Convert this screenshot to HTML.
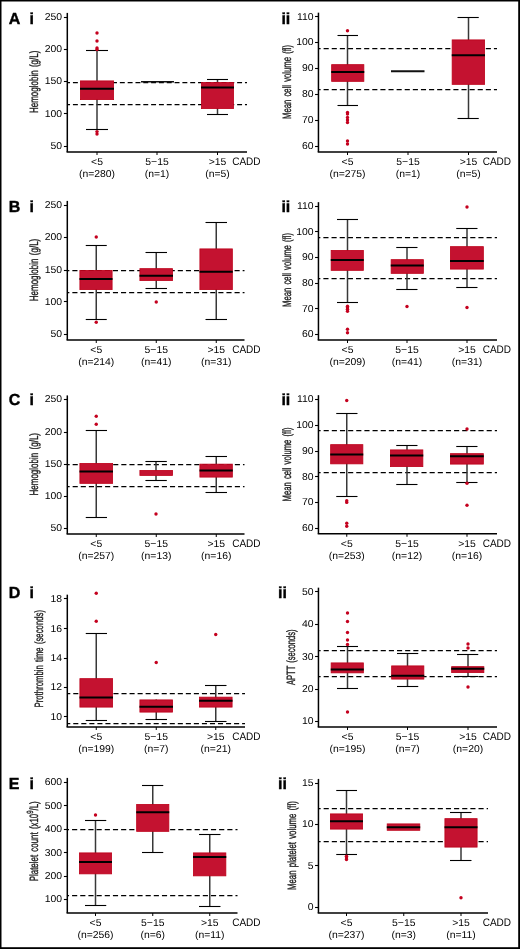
<!DOCTYPE html>
<html><head><meta charset="utf-8"><style>
html,body{margin:0;padding:0;background:#fff;}
svg{display:block;will-change:transform;}
text{text-rendering:geometricPrecision;}
.t{font-family:"Liberation Sans", sans-serif;font-size:10px;fill:#000;}
.yl{font-family:"Liberation Sans", sans-serif;fill:#1a1a1a;stroke:#1a1a1a;stroke-width:0.35px;}
.pl{font-family:"Liberation Sans", sans-serif;font-size:16px;font-weight:bold;fill:#000;stroke:#000;stroke-width:0.4px;}
</style></head><body>
<svg width="520" height="949" viewBox="0 0 520 949">
<rect x="0" y="0" width="520" height="949" fill="#000"/>
<rect x="1.5" y="1.5" width="516.7" height="945.7" fill="#fff"/>
<line x1="67.30" y1="82.5" x2="247" y2="82.5" stroke="#000" stroke-width="1.25" stroke-dasharray="4.93,2.89" stroke-dashoffset="2.20"/>
<line x1="67.30" y1="104.5" x2="247" y2="104.5" stroke="#000" stroke-width="1.25" stroke-dasharray="4.93,2.89" stroke-dashoffset="2.20"/>
<line x1="97" y1="50.5" x2="97" y2="129.5" stroke="#383838" stroke-width="1.5"/>
<line x1="86" y1="50.5" x2="108" y2="50.5" stroke="#000" stroke-width="1.1"/>
<line x1="86" y1="129.5" x2="108" y2="129.5" stroke="#000" stroke-width="1.1"/>
<rect x="80.40" y="80.90" width="33.20" height="18.70" fill="#C41230" stroke="#BD0019" stroke-width="0.8"/>
<line x1="80" y1="88.75" x2="114" y2="88.75" stroke="#000" stroke-width="2.0"/>
<circle cx="97" cy="33" r="1.7" fill="#C4001E"/>
<circle cx="97" cy="41" r="1.7" fill="#C4001E"/>
<circle cx="97" cy="48" r="1.7" fill="#C4001E"/>
<circle cx="97" cy="49.5" r="1.7" fill="#C4001E"/>
<circle cx="97" cy="131.6" r="1.7" fill="#C4001E"/>
<circle cx="97" cy="134" r="1.7" fill="#C4001E"/>
<line x1="141" y1="81.8" x2="174" y2="81.8" stroke="#111" stroke-width="1.4"/>
<line x1="217.5" y1="79.5" x2="217.5" y2="114.5" stroke="#383838" stroke-width="1.5"/>
<line x1="207" y1="79.5" x2="228" y2="79.5" stroke="#000" stroke-width="1.1"/>
<line x1="207" y1="114.5" x2="228" y2="114.5" stroke="#000" stroke-width="1.1"/>
<rect x="201.40" y="82.40" width="32.20" height="26.20" fill="#C41230" stroke="#BD0019" stroke-width="0.8"/>
<line x1="201" y1="87.5" x2="234" y2="87.5" stroke="#000" stroke-width="2.0"/>
<line x1="67.3" y1="12.9" x2="67.3" y2="151.9" stroke="#000" stroke-width="1.5"/>
<line x1="66.55" y1="151.9" x2="247" y2="151.9" stroke="#000" stroke-width="1.5"/>
<line x1="63.9" y1="17.5" x2="67.3" y2="17.5" stroke="#000" stroke-width="1.1"/>
<text transform="translate(62.00,19.8) scale(1.04,1)" text-anchor="end" class="t">250</text>
<line x1="63.9" y1="49.5" x2="67.3" y2="49.5" stroke="#000" stroke-width="1.1"/>
<text transform="translate(62.00,52.05) scale(1.04,1)" text-anchor="end" class="t">200</text>
<line x1="63.9" y1="81.5" x2="67.3" y2="81.5" stroke="#000" stroke-width="1.1"/>
<text transform="translate(62.00,84.3) scale(1.04,1)" text-anchor="end" class="t">150</text>
<line x1="63.9" y1="113.5" x2="67.3" y2="113.5" stroke="#000" stroke-width="1.1"/>
<text transform="translate(62.00,116.55) scale(1.04,1)" text-anchor="end" class="t">100</text>
<line x1="63.9" y1="146.5" x2="67.3" y2="146.5" stroke="#000" stroke-width="1.1"/>
<text transform="translate(62.00,148.8) scale(1.04,1)" text-anchor="end" class="t">50</text>
<line x1="97" y1="152" x2="97" y2="155" stroke="#000" stroke-width="1"/>
<line x1="157" y1="152" x2="157" y2="155" stroke="#000" stroke-width="1"/>
<line x1="217.5" y1="152" x2="217.5" y2="155" stroke="#000" stroke-width="1"/>
<text transform="translate(97.00,165) scale(1.04,1)" text-anchor="middle" class="t">&lt;5</text>
<text transform="translate(97.00,177) scale(1.04,1)" text-anchor="middle" class="t">(n=280)</text>
<text transform="translate(157.00,165) scale(1.04,1)" text-anchor="middle" class="t">5−15</text>
<text transform="translate(157.00,177) scale(1.04,1)" text-anchor="middle" class="t">(n=1)</text>
<text transform="translate(217.50,165) scale(1.04,1)" text-anchor="middle" class="t">&gt;15</text>
<text transform="translate(217.50,177) scale(1.04,1)" text-anchor="middle" class="t">(n=5)</text>
<text transform="translate(232.20,165) scale(0.92,1)" class="t" style="font-size:10.9px">CADD</text>
<text transform="translate(38,81.85) rotate(-90) scale(0.6653,1)" text-anchor="middle" class="yl" style="font-size:12px;word-spacing:1.6px">Hemoglobin (g/L)</text>
<line x1="318.45" y1="48.5" x2="497" y2="48.5" stroke="#000" stroke-width="1.25" stroke-dasharray="5.11,3.00" stroke-dashoffset="2.95"/>
<line x1="318.45" y1="89.5" x2="497" y2="89.5" stroke="#000" stroke-width="1.25" stroke-dasharray="5.11,3.00" stroke-dashoffset="2.95"/>
<line x1="347.5" y1="35.5" x2="347.5" y2="105.5" stroke="#383838" stroke-width="1.5"/>
<line x1="337.5" y1="35.5" x2="358" y2="35.5" stroke="#000" stroke-width="1.1"/>
<line x1="337.5" y1="105.5" x2="358" y2="105.5" stroke="#000" stroke-width="1.1"/>
<rect x="331.65" y="64.65" width="32.20" height="16.70" fill="#C41230" stroke="#BD0019" stroke-width="0.8"/>
<line x1="331.25" y1="72" x2="364.25" y2="72" stroke="#000" stroke-width="2.0"/>
<circle cx="347.5" cy="30.75" r="1.7" fill="#C4001E"/>
<circle cx="347.5" cy="112.5" r="1.7" fill="#C4001E"/>
<circle cx="347.5" cy="114" r="1.7" fill="#C4001E"/>
<circle cx="347.5" cy="117.5" r="1.7" fill="#C4001E"/>
<circle cx="347.5" cy="120" r="1.7" fill="#C4001E"/>
<circle cx="347.5" cy="122.5" r="1.7" fill="#C4001E"/>
<circle cx="347.5" cy="141" r="1.7" fill="#C4001E"/>
<circle cx="347.5" cy="144" r="1.7" fill="#C4001E"/>
<line x1="391" y1="71.25" x2="424.5" y2="71.25" stroke="#111" stroke-width="2.0"/>
<line x1="468.5" y1="17.5" x2="468.5" y2="118.5" stroke="#383838" stroke-width="1.5"/>
<line x1="457.5" y1="17.5" x2="478.75" y2="17.5" stroke="#000" stroke-width="1.1"/>
<line x1="457.5" y1="118.5" x2="478.75" y2="118.5" stroke="#000" stroke-width="1.1"/>
<rect x="452.15" y="39.90" width="32.45" height="44.45" fill="#C41230" stroke="#BD0019" stroke-width="0.8"/>
<line x1="451.75" y1="55.25" x2="485" y2="55.25" stroke="#000" stroke-width="2.0"/>
<line x1="318.45" y1="12.65" x2="318.45" y2="151.9" stroke="#000" stroke-width="1.5"/>
<line x1="317.7" y1="151.9" x2="497" y2="151.9" stroke="#000" stroke-width="1.5"/>
<line x1="315.05" y1="16.5" x2="318.45" y2="16.5" stroke="#000" stroke-width="1.1"/>
<text transform="translate(313.50,19.55) scale(1.04,1)" text-anchor="end" class="t">110</text>
<line x1="315.05" y1="42.5" x2="318.45" y2="42.5" stroke="#000" stroke-width="1.1"/>
<text transform="translate(313.50,45.3) scale(1.04,1)" text-anchor="end" class="t">100</text>
<line x1="315.05" y1="68.5" x2="318.45" y2="68.5" stroke="#000" stroke-width="1.1"/>
<text transform="translate(313.50,71.05) scale(1.04,1)" text-anchor="end" class="t">90</text>
<line x1="315.05" y1="94.5" x2="318.45" y2="94.5" stroke="#000" stroke-width="1.1"/>
<text transform="translate(313.50,97.05) scale(1.04,1)" text-anchor="end" class="t">80</text>
<line x1="315.05" y1="120.5" x2="318.45" y2="120.5" stroke="#000" stroke-width="1.1"/>
<text transform="translate(313.50,122.8) scale(1.04,1)" text-anchor="end" class="t">70</text>
<line x1="315.05" y1="146.5" x2="318.45" y2="146.5" stroke="#000" stroke-width="1.1"/>
<text transform="translate(313.50,148.8) scale(1.04,1)" text-anchor="end" class="t">60</text>
<line x1="347.5" y1="152" x2="347.5" y2="155" stroke="#000" stroke-width="1"/>
<line x1="408" y1="152" x2="408" y2="155" stroke="#000" stroke-width="1"/>
<line x1="468.5" y1="152" x2="468.5" y2="155" stroke="#000" stroke-width="1"/>
<text transform="translate(347.50,165) scale(1.04,1)" text-anchor="middle" class="t">&lt;5</text>
<text transform="translate(347.50,177) scale(1.04,1)" text-anchor="middle" class="t">(n=275)</text>
<text transform="translate(408.00,165) scale(1.04,1)" text-anchor="middle" class="t">5−15</text>
<text transform="translate(408.00,177) scale(1.04,1)" text-anchor="middle" class="t">(n=1)</text>
<text transform="translate(468.50,165) scale(1.04,1)" text-anchor="middle" class="t">&gt;15</text>
<text transform="translate(468.50,177) scale(1.04,1)" text-anchor="middle" class="t">(n=5)</text>
<text transform="translate(482.70,165) scale(0.92,1)" class="t" style="font-size:10.9px">CADD</text>
<text transform="translate(290.8,81.95) rotate(-90) scale(0.6416,1)" text-anchor="middle" class="yl" style="font-size:12px;word-spacing:1.6px">Mean cell volume (fl)</text>
<line x1="67.30" y1="270.5" x2="244.5" y2="270.5" stroke="#000" stroke-width="1.25" stroke-dasharray="5.11,3.00" stroke-dashoffset="3.06"/>
<line x1="67.30" y1="292.5" x2="244.5" y2="292.5" stroke="#000" stroke-width="1.25" stroke-dasharray="5.11,3.00" stroke-dashoffset="3.06"/>
<line x1="96.25" y1="245.5" x2="96.25" y2="319.5" stroke="#383838" stroke-width="1.5"/>
<line x1="85.75" y1="245.5" x2="106.75" y2="245.5" stroke="#000" stroke-width="1.1"/>
<line x1="85.75" y1="319.5" x2="106.75" y2="319.5" stroke="#000" stroke-width="1.1"/>
<rect x="79.90" y="270.40" width="32.20" height="19.20" fill="#C41230" stroke="#BD0019" stroke-width="0.8"/>
<line x1="79.5" y1="279" x2="112.5" y2="279" stroke="#000" stroke-width="2.0"/>
<circle cx="96.25" cy="237" r="1.7" fill="#C4001E"/>
<circle cx="96.25" cy="322.25" r="1.7" fill="#C4001E"/>
<line x1="156.25" y1="252.5" x2="156.25" y2="288.5" stroke="#383838" stroke-width="1.5"/>
<line x1="145.5" y1="252.5" x2="167" y2="252.5" stroke="#000" stroke-width="1.1"/>
<line x1="145.5" y1="288.5" x2="167" y2="288.5" stroke="#000" stroke-width="1.1"/>
<rect x="139.90" y="268.65" width="32.70" height="11.95" fill="#C41230" stroke="#BD0019" stroke-width="0.8"/>
<line x1="139.5" y1="275.75" x2="173" y2="275.75" stroke="#000" stroke-width="2.0"/>
<circle cx="156.25" cy="302" r="1.7" fill="#C4001E"/>
<line x1="216.25" y1="222.5" x2="216.25" y2="319.5" stroke="#383838" stroke-width="1.5"/>
<line x1="205.5" y1="222.5" x2="227" y2="222.5" stroke="#000" stroke-width="1.1"/>
<line x1="205.5" y1="319.5" x2="227" y2="319.5" stroke="#000" stroke-width="1.1"/>
<rect x="199.90" y="248.90" width="32.45" height="40.70" fill="#C41230" stroke="#BD0019" stroke-width="0.8"/>
<line x1="199.5" y1="271.75" x2="232.75" y2="271.75" stroke="#000" stroke-width="2.0"/>
<line x1="67.3" y1="200.9" x2="67.3" y2="339.9" stroke="#000" stroke-width="1.5"/>
<line x1="66.55" y1="339.9" x2="244.5" y2="339.9" stroke="#000" stroke-width="1.5"/>
<line x1="63.9" y1="205.5" x2="67.3" y2="205.5" stroke="#000" stroke-width="1.1"/>
<text transform="translate(62.00,207.8) scale(1.04,1)" text-anchor="end" class="t">250</text>
<line x1="63.9" y1="237.5" x2="67.3" y2="237.5" stroke="#000" stroke-width="1.1"/>
<text transform="translate(62.00,240.3) scale(1.04,1)" text-anchor="end" class="t">200</text>
<line x1="63.9" y1="270.5" x2="67.3" y2="270.5" stroke="#000" stroke-width="1.1"/>
<text transform="translate(62.00,272.8) scale(1.04,1)" text-anchor="end" class="t">150</text>
<line x1="63.9" y1="301.5" x2="67.3" y2="301.5" stroke="#000" stroke-width="1.1"/>
<text transform="translate(62.00,304.55) scale(1.04,1)" text-anchor="end" class="t">100</text>
<line x1="63.9" y1="334.5" x2="67.3" y2="334.5" stroke="#000" stroke-width="1.1"/>
<text transform="translate(62.00,337.05) scale(1.04,1)" text-anchor="end" class="t">50</text>
<line x1="96.25" y1="340" x2="96.25" y2="343" stroke="#000" stroke-width="1"/>
<line x1="156.25" y1="340" x2="156.25" y2="343" stroke="#000" stroke-width="1"/>
<line x1="216.25" y1="340" x2="216.25" y2="343" stroke="#000" stroke-width="1"/>
<text transform="translate(96.25,353) scale(1.04,1)" text-anchor="middle" class="t">&lt;5</text>
<text transform="translate(96.25,365) scale(1.04,1)" text-anchor="middle" class="t">(n=214)</text>
<text transform="translate(156.25,353) scale(1.04,1)" text-anchor="middle" class="t">5−15</text>
<text transform="translate(156.25,365) scale(1.04,1)" text-anchor="middle" class="t">(n=41)</text>
<text transform="translate(216.25,353) scale(1.04,1)" text-anchor="middle" class="t">&gt;15</text>
<text transform="translate(216.25,365) scale(1.04,1)" text-anchor="middle" class="t">(n=31)</text>
<text transform="translate(232.20,353) scale(0.92,1)" class="t" style="font-size:10.9px">CADD</text>
<text transform="translate(38,270.0) rotate(-90) scale(0.6675,1)" text-anchor="middle" class="yl" style="font-size:12px;word-spacing:1.6px">Hemoglobin (g/L)</text>
<line x1="318.45" y1="237.5" x2="497" y2="237.5" stroke="#000" stroke-width="1.25" stroke-dasharray="5.14,3.02" stroke-dashoffset="3.25"/>
<line x1="318.45" y1="278.5" x2="497" y2="278.5" stroke="#000" stroke-width="1.25" stroke-dasharray="5.14,3.02" stroke-dashoffset="3.25"/>
<line x1="347.5" y1="219.5" x2="347.5" y2="302.5" stroke="#383838" stroke-width="1.5"/>
<line x1="337" y1="219.5" x2="358" y2="219.5" stroke="#000" stroke-width="1.1"/>
<line x1="337" y1="302.5" x2="358" y2="302.5" stroke="#000" stroke-width="1.1"/>
<rect x="331.15" y="250.40" width="32.20" height="19.95" fill="#C41230" stroke="#BD0019" stroke-width="0.8"/>
<line x1="330.75" y1="260" x2="363.75" y2="260" stroke="#000" stroke-width="2.0"/>
<circle cx="347.5" cy="306.3" r="1.7" fill="#C4001E"/>
<circle cx="347.5" cy="307.8" r="1.7" fill="#C4001E"/>
<circle cx="347.5" cy="309.3" r="1.7" fill="#C4001E"/>
<circle cx="347.5" cy="311.3" r="1.7" fill="#C4001E"/>
<circle cx="347.5" cy="329.3" r="1.7" fill="#C4001E"/>
<circle cx="347.5" cy="332.7" r="1.7" fill="#C4001E"/>
<line x1="407" y1="247.5" x2="407" y2="289.5" stroke="#383838" stroke-width="1.5"/>
<line x1="396.25" y1="247.5" x2="417.5" y2="247.5" stroke="#000" stroke-width="1.1"/>
<line x1="396.25" y1="289.5" x2="417.5" y2="289.5" stroke="#000" stroke-width="1.1"/>
<rect x="391.15" y="259.65" width="32.20" height="13.70" fill="#C41230" stroke="#BD0019" stroke-width="0.8"/>
<line x1="390.75" y1="265.5" x2="423.75" y2="265.5" stroke="#000" stroke-width="2.0"/>
<circle cx="407" cy="306.5" r="1.7" fill="#C4001E"/>
<line x1="467" y1="228.5" x2="467" y2="287.5" stroke="#383838" stroke-width="1.5"/>
<line x1="456.25" y1="228.5" x2="477.5" y2="228.5" stroke="#000" stroke-width="1.1"/>
<line x1="456.25" y1="287.5" x2="477.5" y2="287.5" stroke="#000" stroke-width="1.1"/>
<rect x="450.40" y="246.65" width="32.95" height="22.45" fill="#C41230" stroke="#BD0019" stroke-width="0.8"/>
<line x1="450" y1="261" x2="483.75" y2="261" stroke="#000" stroke-width="2.0"/>
<circle cx="467" cy="207" r="1.7" fill="#C4001E"/>
<circle cx="467" cy="307.5" r="1.7" fill="#C4001E"/>
<line x1="318.45" y1="202.15" x2="318.45" y2="339.9" stroke="#000" stroke-width="1.5"/>
<line x1="317.7" y1="339.9" x2="497" y2="339.9" stroke="#000" stroke-width="1.5"/>
<line x1="315.05" y1="206.5" x2="318.45" y2="206.5" stroke="#000" stroke-width="1.1"/>
<text transform="translate(313.50,209.05) scale(1.04,1)" text-anchor="end" class="t">110</text>
<line x1="315.05" y1="231.5" x2="318.45" y2="231.5" stroke="#000" stroke-width="1.1"/>
<text transform="translate(313.50,234.55) scale(1.04,1)" text-anchor="end" class="t">100</text>
<line x1="315.05" y1="257.5" x2="318.45" y2="257.5" stroke="#000" stroke-width="1.1"/>
<text transform="translate(313.50,260.3) scale(1.04,1)" text-anchor="end" class="t">90</text>
<line x1="315.05" y1="283.5" x2="318.45" y2="283.5" stroke="#000" stroke-width="1.1"/>
<text transform="translate(313.50,285.8) scale(1.04,1)" text-anchor="end" class="t">80</text>
<line x1="315.05" y1="308.5" x2="318.45" y2="308.5" stroke="#000" stroke-width="1.1"/>
<text transform="translate(313.50,311.55) scale(1.04,1)" text-anchor="end" class="t">70</text>
<line x1="315.05" y1="334.5" x2="318.45" y2="334.5" stroke="#000" stroke-width="1.1"/>
<text transform="translate(313.50,337.3) scale(1.04,1)" text-anchor="end" class="t">60</text>
<line x1="347.5" y1="340" x2="347.5" y2="343" stroke="#000" stroke-width="1"/>
<line x1="407" y1="340" x2="407" y2="343" stroke="#000" stroke-width="1"/>
<line x1="467" y1="340" x2="467" y2="343" stroke="#000" stroke-width="1"/>
<text transform="translate(347.50,353) scale(1.04,1)" text-anchor="middle" class="t">&lt;5</text>
<text transform="translate(347.50,365) scale(1.04,1)" text-anchor="middle" class="t">(n=209)</text>
<text transform="translate(407.00,353) scale(1.04,1)" text-anchor="middle" class="t">5−15</text>
<text transform="translate(407.00,365) scale(1.04,1)" text-anchor="middle" class="t">(n=41)</text>
<text transform="translate(467.00,353) scale(1.04,1)" text-anchor="middle" class="t">&gt;15</text>
<text transform="translate(467.00,365) scale(1.04,1)" text-anchor="middle" class="t">(n=31)</text>
<text transform="translate(482.70,353) scale(0.92,1)" class="t" style="font-size:10.9px">CADD</text>
<text transform="translate(290.8,270.0) rotate(-90) scale(0.6407,1)" text-anchor="middle" class="yl" style="font-size:12px;word-spacing:1.6px">Mean cell volume (fl)</text>
<line x1="67.30" y1="464.5" x2="244.5" y2="464.5" stroke="#000" stroke-width="1.25" stroke-dasharray="5.11,3.00" stroke-dashoffset="2.76"/>
<line x1="67.30" y1="486.5" x2="244.5" y2="486.5" stroke="#000" stroke-width="1.25" stroke-dasharray="5.11,3.00" stroke-dashoffset="2.76"/>
<line x1="96.25" y1="430.5" x2="96.25" y2="517.5" stroke="#383838" stroke-width="1.5"/>
<line x1="85.75" y1="430.5" x2="107" y2="430.5" stroke="#000" stroke-width="1.1"/>
<line x1="85.75" y1="517.5" x2="107" y2="517.5" stroke="#000" stroke-width="1.1"/>
<rect x="79.90" y="463.40" width="32.70" height="19.95" fill="#C41230" stroke="#BD0019" stroke-width="0.8"/>
<line x1="79.5" y1="471.5" x2="113" y2="471.5" stroke="#000" stroke-width="2.0"/>
<circle cx="96.25" cy="416.25" r="1.7" fill="#C4001E"/>
<circle cx="96.25" cy="424.25" r="1.7" fill="#C4001E"/>
<line x1="156" y1="461.5" x2="156" y2="480.5" stroke="#383838" stroke-width="1.5"/>
<line x1="145.4" y1="461.5" x2="166.8" y2="461.5" stroke="#000" stroke-width="1.1"/>
<line x1="145.4" y1="480.5" x2="166.8" y2="480.5" stroke="#000" stroke-width="1.1"/>
<rect x="139.90" y="470.40" width="32.70" height="5.00" fill="#C41230" stroke="#BD0019" stroke-width="0.8"/>
<circle cx="156" cy="514" r="1.7" fill="#C4001E"/>
<line x1="216.25" y1="456.5" x2="216.25" y2="492.5" stroke="#383838" stroke-width="1.5"/>
<line x1="205.5" y1="456.5" x2="227" y2="456.5" stroke="#000" stroke-width="1.1"/>
<line x1="205.5" y1="492.5" x2="227" y2="492.5" stroke="#000" stroke-width="1.1"/>
<rect x="199.90" y="464.15" width="32.45" height="12.95" fill="#C41230" stroke="#BD0019" stroke-width="0.8"/>
<line x1="199.5" y1="470.5" x2="232.75" y2="470.5" stroke="#000" stroke-width="2.0"/>
<line x1="67.3" y1="395.4" x2="67.3" y2="533.9" stroke="#000" stroke-width="1.5"/>
<line x1="66.55" y1="533.9" x2="244.5" y2="533.9" stroke="#000" stroke-width="1.5"/>
<line x1="63.9" y1="399.5" x2="67.3" y2="399.5" stroke="#000" stroke-width="1.1"/>
<text transform="translate(62.00,402.3) scale(1.04,1)" text-anchor="end" class="t">250</text>
<line x1="63.9" y1="432.5" x2="67.3" y2="432.5" stroke="#000" stroke-width="1.1"/>
<text transform="translate(62.00,434.8) scale(1.04,1)" text-anchor="end" class="t">200</text>
<line x1="63.9" y1="464.5" x2="67.3" y2="464.5" stroke="#000" stroke-width="1.1"/>
<text transform="translate(62.00,467.05) scale(1.04,1)" text-anchor="end" class="t">150</text>
<line x1="63.9" y1="496.5" x2="67.3" y2="496.5" stroke="#000" stroke-width="1.1"/>
<text transform="translate(62.00,499.05) scale(1.04,1)" text-anchor="end" class="t">100</text>
<line x1="63.9" y1="528.5" x2="67.3" y2="528.5" stroke="#000" stroke-width="1.1"/>
<text transform="translate(62.00,531.3) scale(1.04,1)" text-anchor="end" class="t">50</text>
<line x1="96.25" y1="534" x2="96.25" y2="537" stroke="#000" stroke-width="1"/>
<line x1="156.25" y1="534" x2="156.25" y2="537" stroke="#000" stroke-width="1"/>
<line x1="216.25" y1="534" x2="216.25" y2="537" stroke="#000" stroke-width="1"/>
<text transform="translate(96.25,547) scale(1.04,1)" text-anchor="middle" class="t">&lt;5</text>
<text transform="translate(96.25,559) scale(1.04,1)" text-anchor="middle" class="t">(n=257)</text>
<text transform="translate(156.25,547) scale(1.04,1)" text-anchor="middle" class="t">5−15</text>
<text transform="translate(156.25,559) scale(1.04,1)" text-anchor="middle" class="t">(n=13)</text>
<text transform="translate(216.25,547) scale(1.04,1)" text-anchor="middle" class="t">&gt;15</text>
<text transform="translate(216.25,559) scale(1.04,1)" text-anchor="middle" class="t">(n=16)</text>
<text transform="translate(232.20,547) scale(0.92,1)" class="t" style="font-size:10.9px">CADD</text>
<text transform="translate(38,464.25) rotate(-90) scale(0.6675,1)" text-anchor="middle" class="yl" style="font-size:12px;word-spacing:1.6px">Hemoglobin (g/L)</text>
<line x1="318.45" y1="430.5" x2="497" y2="430.5" stroke="#000" stroke-width="1.25" stroke-dasharray="5.13,3.02" stroke-dashoffset="2.95"/>
<line x1="318.45" y1="472.5" x2="497" y2="472.5" stroke="#000" stroke-width="1.25" stroke-dasharray="5.13,3.02" stroke-dashoffset="2.95"/>
<line x1="346.75" y1="413.5" x2="346.75" y2="496.5" stroke="#383838" stroke-width="1.5"/>
<line x1="336.25" y1="413.5" x2="357.5" y2="413.5" stroke="#000" stroke-width="1.1"/>
<line x1="336.25" y1="496.5" x2="357.5" y2="496.5" stroke="#000" stroke-width="1.1"/>
<rect x="330.65" y="444.65" width="32.20" height="19.20" fill="#C41230" stroke="#BD0019" stroke-width="0.8"/>
<line x1="330.25" y1="454.5" x2="363.25" y2="454.5" stroke="#000" stroke-width="2.0"/>
<circle cx="346.75" cy="400.5" r="1.7" fill="#C4001E"/>
<circle cx="346.75" cy="500.8" r="1.7" fill="#C4001E"/>
<circle cx="346.75" cy="502.4" r="1.7" fill="#C4001E"/>
<circle cx="346.75" cy="523.2" r="1.7" fill="#C4001E"/>
<circle cx="346.75" cy="526.3" r="1.7" fill="#C4001E"/>
<line x1="407" y1="445.5" x2="407" y2="484.5" stroke="#383838" stroke-width="1.5"/>
<line x1="396.25" y1="445.5" x2="417.5" y2="445.5" stroke="#000" stroke-width="1.1"/>
<line x1="396.25" y1="484.5" x2="417.5" y2="484.5" stroke="#000" stroke-width="1.1"/>
<rect x="390.40" y="449.90" width="32.45" height="16.70" fill="#C41230" stroke="#BD0019" stroke-width="0.8"/>
<line x1="390" y1="455.5" x2="423.25" y2="455.5" stroke="#000" stroke-width="2.0"/>
<line x1="467" y1="446.5" x2="467" y2="482.5" stroke="#383838" stroke-width="1.5"/>
<line x1="456.25" y1="446.5" x2="477.5" y2="446.5" stroke="#000" stroke-width="1.1"/>
<line x1="456.25" y1="482.5" x2="477.5" y2="482.5" stroke="#000" stroke-width="1.1"/>
<rect x="450.40" y="453.65" width="32.95" height="10.45" fill="#C41230" stroke="#BD0019" stroke-width="0.8"/>
<line x1="450" y1="456.25" x2="483.75" y2="456.25" stroke="#000" stroke-width="2.0"/>
<circle cx="467" cy="429" r="1.7" fill="#C4001E"/>
<circle cx="467" cy="483.25" r="1.7" fill="#C4001E"/>
<circle cx="467" cy="505.25" r="1.7" fill="#C4001E"/>
<line x1="318.45" y1="395.15" x2="318.45" y2="533.65" stroke="#000" stroke-width="1.5"/>
<line x1="317.7" y1="533.65" x2="497" y2="533.65" stroke="#000" stroke-width="1.5"/>
<line x1="315.05" y1="399.5" x2="318.45" y2="399.5" stroke="#000" stroke-width="1.1"/>
<text transform="translate(313.50,402.05) scale(1.04,1)" text-anchor="end" class="t">110</text>
<line x1="315.05" y1="425.5" x2="318.45" y2="425.5" stroke="#000" stroke-width="1.1"/>
<text transform="translate(313.50,427.8) scale(1.04,1)" text-anchor="end" class="t">100</text>
<line x1="315.05" y1="451.5" x2="318.45" y2="451.5" stroke="#000" stroke-width="1.1"/>
<text transform="translate(313.50,454.05) scale(1.04,1)" text-anchor="end" class="t">90</text>
<line x1="315.05" y1="476.5" x2="318.45" y2="476.5" stroke="#000" stroke-width="1.1"/>
<text transform="translate(313.50,479.55) scale(1.04,1)" text-anchor="end" class="t">80</text>
<line x1="315.05" y1="502.5" x2="318.45" y2="502.5" stroke="#000" stroke-width="1.1"/>
<text transform="translate(313.50,505.3) scale(1.04,1)" text-anchor="end" class="t">70</text>
<line x1="315.05" y1="528.5" x2="318.45" y2="528.5" stroke="#000" stroke-width="1.1"/>
<text transform="translate(313.50,530.8) scale(1.04,1)" text-anchor="end" class="t">60</text>
<line x1="346.75" y1="533.75" x2="346.75" y2="536.75" stroke="#000" stroke-width="1"/>
<line x1="407" y1="533.75" x2="407" y2="536.75" stroke="#000" stroke-width="1"/>
<line x1="467" y1="533.75" x2="467" y2="536.75" stroke="#000" stroke-width="1"/>
<text transform="translate(346.75,547) scale(1.04,1)" text-anchor="middle" class="t">&lt;5</text>
<text transform="translate(346.75,559) scale(1.04,1)" text-anchor="middle" class="t">(n=253)</text>
<text transform="translate(407.00,547) scale(1.04,1)" text-anchor="middle" class="t">5−15</text>
<text transform="translate(407.00,559) scale(1.04,1)" text-anchor="middle" class="t">(n=12)</text>
<text transform="translate(467.00,547) scale(1.04,1)" text-anchor="middle" class="t">&gt;15</text>
<text transform="translate(467.00,559) scale(1.04,1)" text-anchor="middle" class="t">(n=16)</text>
<text transform="translate(482.70,547) scale(0.92,1)" class="t" style="font-size:10.9px">CADD</text>
<text transform="translate(290.8,464.5) rotate(-90) scale(0.6407,1)" text-anchor="middle" class="yl" style="font-size:12px;word-spacing:1.6px">Mean cell volume (fl)</text>
<line x1="67.30" y1="693.5" x2="245" y2="693.5" stroke="#000" stroke-width="1.25" stroke-dasharray="5.07,2.97" stroke-dashoffset="2.08"/>
<line x1="67.30" y1="723.5" x2="245" y2="723.5" stroke="#000" stroke-width="1.25" stroke-dasharray="5.07,2.97" stroke-dashoffset="2.08"/>
<line x1="96.25" y1="633.5" x2="96.25" y2="720.5" stroke="#383838" stroke-width="1.5"/>
<line x1="85.75" y1="633.5" x2="107" y2="633.5" stroke="#000" stroke-width="1.1"/>
<line x1="85.75" y1="720.5" x2="107" y2="720.5" stroke="#000" stroke-width="1.1"/>
<rect x="79.90" y="678.65" width="32.70" height="28.45" fill="#C41230" stroke="#BD0019" stroke-width="0.8"/>
<line x1="79.5" y1="697.5" x2="113" y2="697.5" stroke="#000" stroke-width="2.0"/>
<circle cx="96.25" cy="593.25" r="1.7" fill="#C4001E"/>
<circle cx="96.25" cy="621.25" r="1.7" fill="#C4001E"/>
<line x1="156.25" y1="699.5" x2="156.25" y2="719.5" stroke="#383838" stroke-width="1.5"/>
<line x1="145.5" y1="719.5" x2="167" y2="719.5" stroke="#000" stroke-width="1.1"/>
<rect x="139.90" y="699.90" width="32.70" height="12.20" fill="#C41230" stroke="#BD0019" stroke-width="0.8"/>
<line x1="139.5" y1="706.75" x2="173" y2="706.75" stroke="#000" stroke-width="2.0"/>
<circle cx="156.25" cy="662.5" r="1.7" fill="#C4001E"/>
<line x1="215.75" y1="685.5" x2="215.75" y2="721.5" stroke="#383838" stroke-width="1.5"/>
<line x1="205" y1="685.5" x2="226.5" y2="685.5" stroke="#000" stroke-width="1.1"/>
<line x1="205" y1="721.5" x2="226.5" y2="721.5" stroke="#000" stroke-width="1.1"/>
<rect x="199.40" y="697.15" width="32.70" height="9.95" fill="#C41230" stroke="#BD0019" stroke-width="0.8"/>
<line x1="199" y1="700.75" x2="232.5" y2="700.75" stroke="#000" stroke-width="2.0"/>
<circle cx="215.75" cy="634.5" r="1.7" fill="#C4001E"/>
<line x1="67.3" y1="594.65" x2="67.3" y2="726.9" stroke="#000" stroke-width="1.5"/>
<line x1="66.55" y1="726.9" x2="245" y2="726.9" stroke="#000" stroke-width="1.5"/>
<line x1="63.9" y1="598.5" x2="67.3" y2="598.5" stroke="#000" stroke-width="1.1"/>
<text transform="translate(62.00,601.55) scale(1.04,1)" text-anchor="end" class="t">18</text>
<line x1="63.9" y1="628.5" x2="67.3" y2="628.5" stroke="#000" stroke-width="1.1"/>
<text transform="translate(62.00,631.55) scale(1.04,1)" text-anchor="end" class="t">16</text>
<line x1="63.9" y1="658.5" x2="67.3" y2="658.5" stroke="#000" stroke-width="1.1"/>
<text transform="translate(62.00,661.05) scale(1.04,1)" text-anchor="end" class="t">14</text>
<line x1="63.9" y1="687.5" x2="67.3" y2="687.5" stroke="#000" stroke-width="1.1"/>
<text transform="translate(62.00,690.3) scale(1.04,1)" text-anchor="end" class="t">12</text>
<line x1="63.9" y1="716.5" x2="67.3" y2="716.5" stroke="#000" stroke-width="1.1"/>
<text transform="translate(62.00,719.55) scale(1.04,1)" text-anchor="end" class="t">10</text>
<line x1="96.25" y1="727" x2="96.25" y2="730" stroke="#000" stroke-width="1"/>
<line x1="156.25" y1="727" x2="156.25" y2="730" stroke="#000" stroke-width="1"/>
<line x1="215.75" y1="727" x2="215.75" y2="730" stroke="#000" stroke-width="1"/>
<text transform="translate(96.25,740) scale(1.04,1)" text-anchor="middle" class="t">&lt;5</text>
<text transform="translate(96.25,752) scale(1.04,1)" text-anchor="middle" class="t">(n=199)</text>
<text transform="translate(156.25,740) scale(1.04,1)" text-anchor="middle" class="t">5−15</text>
<text transform="translate(156.25,752) scale(1.04,1)" text-anchor="middle" class="t">(n=7)</text>
<text transform="translate(215.75,740) scale(1.04,1)" text-anchor="middle" class="t">&gt;15</text>
<text transform="translate(215.75,752) scale(1.04,1)" text-anchor="middle" class="t">(n=21)</text>
<text transform="translate(232.20,740) scale(0.92,1)" class="t" style="font-size:10.9px">CADD</text>
<text transform="translate(43,658.75) rotate(-90) scale(0.6475,1)" text-anchor="middle" class="yl" style="font-size:12px;word-spacing:1.6px">Prothrombin time (seconds)</text>
<line x1="318.45" y1="650.5" x2="497" y2="650.5" stroke="#000" stroke-width="1.25" stroke-dasharray="5.13,3.02" stroke-dashoffset="2.95"/>
<line x1="318.45" y1="676.5" x2="497" y2="676.5" stroke="#000" stroke-width="1.25" stroke-dasharray="5.13,3.02" stroke-dashoffset="2.95"/>
<line x1="347.5" y1="646.5" x2="347.5" y2="688.5" stroke="#383838" stroke-width="1.5"/>
<line x1="337" y1="646.5" x2="358" y2="646.5" stroke="#000" stroke-width="1.1"/>
<line x1="337" y1="688.5" x2="358" y2="688.5" stroke="#000" stroke-width="1.1"/>
<rect x="331.15" y="662.90" width="32.20" height="9.95" fill="#C41230" stroke="#BD0019" stroke-width="0.8"/>
<line x1="330.75" y1="669.5" x2="363.75" y2="669.5" stroke="#000" stroke-width="2.0"/>
<circle cx="347.5" cy="613" r="1.7" fill="#C4001E"/>
<circle cx="347.5" cy="621.5" r="1.7" fill="#C4001E"/>
<circle cx="347.5" cy="632.5" r="1.7" fill="#C4001E"/>
<circle cx="347.5" cy="640" r="1.7" fill="#C4001E"/>
<circle cx="347.5" cy="644.5" r="1.7" fill="#C4001E"/>
<circle cx="347.5" cy="712" r="1.7" fill="#C4001E"/>
<line x1="407.5" y1="653.5" x2="407.5" y2="686.5" stroke="#383838" stroke-width="1.5"/>
<line x1="397" y1="653.5" x2="418.25" y2="653.5" stroke="#000" stroke-width="1.1"/>
<line x1="397" y1="686.5" x2="418.25" y2="686.5" stroke="#000" stroke-width="1.1"/>
<rect x="391.65" y="665.90" width="32.20" height="13.20" fill="#C41230" stroke="#BD0019" stroke-width="0.8"/>
<line x1="391.25" y1="675.75" x2="424.25" y2="675.75" stroke="#000" stroke-width="2.0"/>
<line x1="468" y1="654.5" x2="468" y2="676.5" stroke="#383838" stroke-width="1.5"/>
<line x1="457" y1="654.5" x2="478.25" y2="654.5" stroke="#000" stroke-width="1.1"/>
<line x1="457" y1="676.5" x2="478.25" y2="676.5" stroke="#000" stroke-width="1.1"/>
<rect x="451.65" y="666.65" width="32.20" height="5.95" fill="#C41230" stroke="#BD0019" stroke-width="0.8"/>
<line x1="451.25" y1="668.75" x2="484.25" y2="668.75" stroke="#000" stroke-width="2.0"/>
<circle cx="468" cy="644" r="1.7" fill="#C4001E"/>
<circle cx="468" cy="648" r="1.7" fill="#C4001E"/>
<circle cx="468" cy="687" r="1.7" fill="#C4001E"/>
<line x1="318.45" y1="587.65" x2="318.45" y2="726.9" stroke="#000" stroke-width="1.5"/>
<line x1="317.7" y1="726.9" x2="497" y2="726.9" stroke="#000" stroke-width="1.5"/>
<line x1="315.05" y1="591.5" x2="318.45" y2="591.5" stroke="#000" stroke-width="1.1"/>
<text transform="translate(313.50,594.55) scale(1.04,1)" text-anchor="end" class="t">50</text>
<line x1="315.05" y1="624.5" x2="318.45" y2="624.5" stroke="#000" stroke-width="1.1"/>
<text transform="translate(313.50,627.05) scale(1.04,1)" text-anchor="end" class="t">40</text>
<line x1="315.05" y1="656.5" x2="318.45" y2="656.5" stroke="#000" stroke-width="1.1"/>
<text transform="translate(313.50,659.55) scale(1.04,1)" text-anchor="end" class="t">30</text>
<line x1="315.05" y1="689.5" x2="318.45" y2="689.5" stroke="#000" stroke-width="1.1"/>
<text transform="translate(313.50,692.05) scale(1.04,1)" text-anchor="end" class="t">20</text>
<line x1="315.05" y1="721.5" x2="318.45" y2="721.5" stroke="#000" stroke-width="1.1"/>
<text transform="translate(313.50,724.05) scale(1.04,1)" text-anchor="end" class="t">10</text>
<line x1="347.5" y1="727" x2="347.5" y2="730" stroke="#000" stroke-width="1"/>
<line x1="407.5" y1="727" x2="407.5" y2="730" stroke="#000" stroke-width="1"/>
<line x1="468" y1="727" x2="468" y2="730" stroke="#000" stroke-width="1"/>
<text transform="translate(347.50,740) scale(1.04,1)" text-anchor="middle" class="t">&lt;5</text>
<text transform="translate(347.50,752) scale(1.04,1)" text-anchor="middle" class="t">(n=195)</text>
<text transform="translate(407.50,740) scale(1.04,1)" text-anchor="middle" class="t">5−15</text>
<text transform="translate(407.50,752) scale(1.04,1)" text-anchor="middle" class="t">(n=7)</text>
<text transform="translate(468.00,740) scale(1.04,1)" text-anchor="middle" class="t">&gt;15</text>
<text transform="translate(468.00,752) scale(1.04,1)" text-anchor="middle" class="t">(n=20)</text>
<text transform="translate(482.70,740) scale(0.92,1)" class="t" style="font-size:10.9px">CADD</text>
<text transform="translate(295,657.25) rotate(-90) scale(0.6302,1)" text-anchor="middle" class="yl" style="font-size:12px;word-spacing:1.6px">APTT (seconds)</text>
<line x1="67.30" y1="829.5" x2="237.5" y2="829.5" stroke="#000" stroke-width="1.25" stroke-dasharray="5.15,3.02" stroke-dashoffset="3.40"/>
<line x1="67.30" y1="895.5" x2="237.5" y2="895.5" stroke="#000" stroke-width="1.25" stroke-dasharray="5.15,3.02" stroke-dashoffset="3.40"/>
<line x1="95.5" y1="820.5" x2="95.5" y2="905.5" stroke="#383838" stroke-width="1.5"/>
<line x1="85" y1="820.5" x2="106.25" y2="820.5" stroke="#000" stroke-width="1.1"/>
<line x1="85" y1="905.5" x2="106.25" y2="905.5" stroke="#000" stroke-width="1.1"/>
<rect x="79.40" y="852.90" width="32.20" height="20.95" fill="#C41230" stroke="#BD0019" stroke-width="0.8"/>
<line x1="79" y1="862" x2="112" y2="862" stroke="#000" stroke-width="2.0"/>
<circle cx="95.5" cy="815" r="1.7" fill="#C4001E"/>
<line x1="152.75" y1="785.5" x2="152.75" y2="852.5" stroke="#383838" stroke-width="1.5"/>
<line x1="142" y1="785.5" x2="163.25" y2="785.5" stroke="#000" stroke-width="1.1"/>
<line x1="142" y1="852.5" x2="163.25" y2="852.5" stroke="#000" stroke-width="1.1"/>
<rect x="136.65" y="804.40" width="32.20" height="26.95" fill="#C41230" stroke="#BD0019" stroke-width="0.8"/>
<line x1="136.25" y1="812.25" x2="169.25" y2="812.25" stroke="#000" stroke-width="2.0"/>
<line x1="209.75" y1="834.5" x2="209.75" y2="906.5" stroke="#383838" stroke-width="1.5"/>
<line x1="199" y1="834.5" x2="220.5" y2="834.5" stroke="#000" stroke-width="1.1"/>
<line x1="199" y1="906.5" x2="220.5" y2="906.5" stroke="#000" stroke-width="1.1"/>
<rect x="193.40" y="852.90" width="32.45" height="22.95" fill="#C41230" stroke="#BD0019" stroke-width="0.8"/>
<line x1="193" y1="857" x2="226.25" y2="857" stroke="#000" stroke-width="2.0"/>
<line x1="67.3" y1="777.9" x2="67.3" y2="912.9" stroke="#000" stroke-width="1.5"/>
<line x1="66.55" y1="912.9" x2="237.5" y2="912.9" stroke="#000" stroke-width="1.5"/>
<line x1="63.9" y1="782.5" x2="67.3" y2="782.5" stroke="#000" stroke-width="1.1"/>
<text transform="translate(62.00,784.8) scale(1.04,1)" text-anchor="end" class="t">600</text>
<line x1="63.9" y1="805.5" x2="67.3" y2="805.5" stroke="#000" stroke-width="1.1"/>
<text transform="translate(62.00,808.55) scale(1.04,1)" text-anchor="end" class="t">500</text>
<line x1="63.9" y1="829.5" x2="67.3" y2="829.5" stroke="#000" stroke-width="1.1"/>
<text transform="translate(62.00,832.05) scale(1.04,1)" text-anchor="end" class="t">400</text>
<line x1="63.9" y1="852.5" x2="67.3" y2="852.5" stroke="#000" stroke-width="1.1"/>
<text transform="translate(62.00,855.55) scale(1.04,1)" text-anchor="end" class="t">300</text>
<line x1="63.9" y1="876.5" x2="67.3" y2="876.5" stroke="#000" stroke-width="1.1"/>
<text transform="translate(62.00,879.05) scale(1.04,1)" text-anchor="end" class="t">200</text>
<line x1="63.9" y1="899.5" x2="67.3" y2="899.5" stroke="#000" stroke-width="1.1"/>
<text transform="translate(62.00,902.3) scale(1.04,1)" text-anchor="end" class="t">100</text>
<line x1="95.5" y1="913" x2="95.5" y2="916" stroke="#000" stroke-width="1"/>
<line x1="152.75" y1="913" x2="152.75" y2="916" stroke="#000" stroke-width="1"/>
<line x1="209.75" y1="913" x2="209.75" y2="916" stroke="#000" stroke-width="1"/>
<text transform="translate(95.50,926) scale(1.04,1)" text-anchor="middle" class="t">&lt;5</text>
<text transform="translate(95.50,938) scale(1.04,1)" text-anchor="middle" class="t">(n=256)</text>
<text transform="translate(152.75,926) scale(1.04,1)" text-anchor="middle" class="t">5−15</text>
<text transform="translate(152.75,938) scale(1.04,1)" text-anchor="middle" class="t">(n=6)</text>
<text transform="translate(209.75,926) scale(1.04,1)" text-anchor="middle" class="t">&gt;15</text>
<text transform="translate(209.75,938) scale(1.04,1)" text-anchor="middle" class="t">(n=11)</text>
<text transform="translate(232.20,926) scale(0.92,1)" class="t" style="font-size:10.9px">CADD</text>
<text transform="translate(38,841.25) rotate(-90) scale(0.6579,1)" text-anchor="middle" class="yl" style="font-size:12px;word-spacing:1.6px">Platelet count (x10<tspan dy="-5" style="font-size:9px">9</tspan><tspan dy="5">/L)</tspan></text>
<line x1="318.45" y1="808.5" x2="488" y2="808.5" stroke="#000" stroke-width="1.25" stroke-dasharray="5.13,3.02" stroke-dashoffset="2.95"/>
<line x1="318.45" y1="841.5" x2="488" y2="841.5" stroke="#000" stroke-width="1.25" stroke-dasharray="5.13,3.02" stroke-dashoffset="2.95"/>
<line x1="346.5" y1="790.5" x2="346.5" y2="854.5" stroke="#383838" stroke-width="1.5"/>
<line x1="336.25" y1="790.5" x2="357" y2="790.5" stroke="#000" stroke-width="1.1"/>
<line x1="336.25" y1="854.5" x2="357" y2="854.5" stroke="#000" stroke-width="1.1"/>
<rect x="330.40" y="813.90" width="32.20" height="15.20" fill="#C41230" stroke="#BD0019" stroke-width="0.8"/>
<line x1="330" y1="821.25" x2="363" y2="821.25" stroke="#000" stroke-width="2.0"/>
<circle cx="346.5" cy="856.25" r="1.7" fill="#C4001E"/>
<circle cx="346.5" cy="858" r="1.7" fill="#C4001E"/>
<circle cx="346.5" cy="859.5" r="1.7" fill="#C4001E"/>
<rect x="387.20" y="823.90" width="32.60" height="6.40" fill="#C41230" stroke="#BD0019" stroke-width="0.8"/>
<line x1="386.8" y1="827.3" x2="420.2" y2="827.3" stroke="#000" stroke-width="2.0"/>
<line x1="461" y1="812.5" x2="461" y2="860.5" stroke="#383838" stroke-width="1.5"/>
<line x1="450" y1="812.5" x2="471.5" y2="812.5" stroke="#000" stroke-width="1.1"/>
<line x1="450" y1="860.5" x2="471.5" y2="860.5" stroke="#000" stroke-width="1.1"/>
<rect x="444.90" y="818.65" width="32.20" height="28.45" fill="#C41230" stroke="#BD0019" stroke-width="0.8"/>
<line x1="444.5" y1="827.25" x2="477.5" y2="827.25" stroke="#000" stroke-width="2.0"/>
<circle cx="461" cy="897.75" r="1.7" fill="#C4001E"/>
<line x1="318.45" y1="778.9" x2="318.45" y2="912.9" stroke="#000" stroke-width="1.5"/>
<line x1="317.7" y1="912.9" x2="488" y2="912.9" stroke="#000" stroke-width="1.5"/>
<line x1="315.05" y1="783.5" x2="318.45" y2="783.5" stroke="#000" stroke-width="1.1"/>
<text transform="translate(313.50,785.8) scale(1.04,1)" text-anchor="end" class="t">15</text>
<line x1="315.05" y1="824.5" x2="318.45" y2="824.5" stroke="#000" stroke-width="1.1"/>
<text transform="translate(313.50,827.3) scale(1.04,1)" text-anchor="end" class="t">10</text>
<line x1="315.05" y1="865.5" x2="318.45" y2="865.5" stroke="#000" stroke-width="1.1"/>
<text transform="translate(313.50,868.55) scale(1.04,1)" text-anchor="end" class="t">5</text>
<line x1="315.05" y1="907.5" x2="318.45" y2="907.5" stroke="#000" stroke-width="1.1"/>
<text transform="translate(313.50,909.8) scale(1.04,1)" text-anchor="end" class="t">0</text>
<line x1="346.5" y1="913" x2="346.5" y2="916" stroke="#000" stroke-width="1"/>
<line x1="403.75" y1="913" x2="403.75" y2="916" stroke="#000" stroke-width="1"/>
<line x1="461" y1="913" x2="461" y2="916" stroke="#000" stroke-width="1"/>
<text transform="translate(346.50,926) scale(1.04,1)" text-anchor="middle" class="t">&lt;5</text>
<text transform="translate(346.50,938) scale(1.04,1)" text-anchor="middle" class="t">(n=237)</text>
<text transform="translate(403.75,926) scale(1.04,1)" text-anchor="middle" class="t">5−15</text>
<text transform="translate(403.75,938) scale(1.04,1)" text-anchor="middle" class="t">(n=3)</text>
<text transform="translate(461.00,926) scale(1.04,1)" text-anchor="middle" class="t">&gt;15</text>
<text transform="translate(461.00,938) scale(1.04,1)" text-anchor="middle" class="t">(n=11)</text>
<text transform="translate(482.70,926) scale(0.92,1)" class="t" style="font-size:10.9px">CADD</text>
<text transform="translate(295.8,845.625) rotate(-90) scale(0.6517,1)" text-anchor="middle" class="yl" style="font-size:12px;word-spacing:1.6px">Mean platelet volume (fl)</text>
<text x="8.7" y="23.7" class="pl">A</text>
<text x="29.5" y="23.7" class="pl">i</text>
<text x="281.4" y="23.7" class="pl">ii</text>
<text x="8.7" y="211.5" class="pl">B</text>
<text x="29.5" y="211.5" class="pl">i</text>
<text x="281.4" y="211.5" class="pl">ii</text>
<text x="8.7" y="405.0" class="pl">C</text>
<text x="29.5" y="405.0" class="pl">i</text>
<text x="281.4" y="405.0" class="pl">ii</text>
<text x="8.7" y="598.0" class="pl">D</text>
<text x="29.5" y="598.0" class="pl">i</text>
<text x="278.1" y="598.0" class="pl">ii</text>
<text x="8.7" y="788.9" class="pl">E</text>
<text x="29.5" y="788.9" class="pl">i</text>
<text x="278.1" y="788.9" class="pl">ii</text>
</svg>
</body></html>
